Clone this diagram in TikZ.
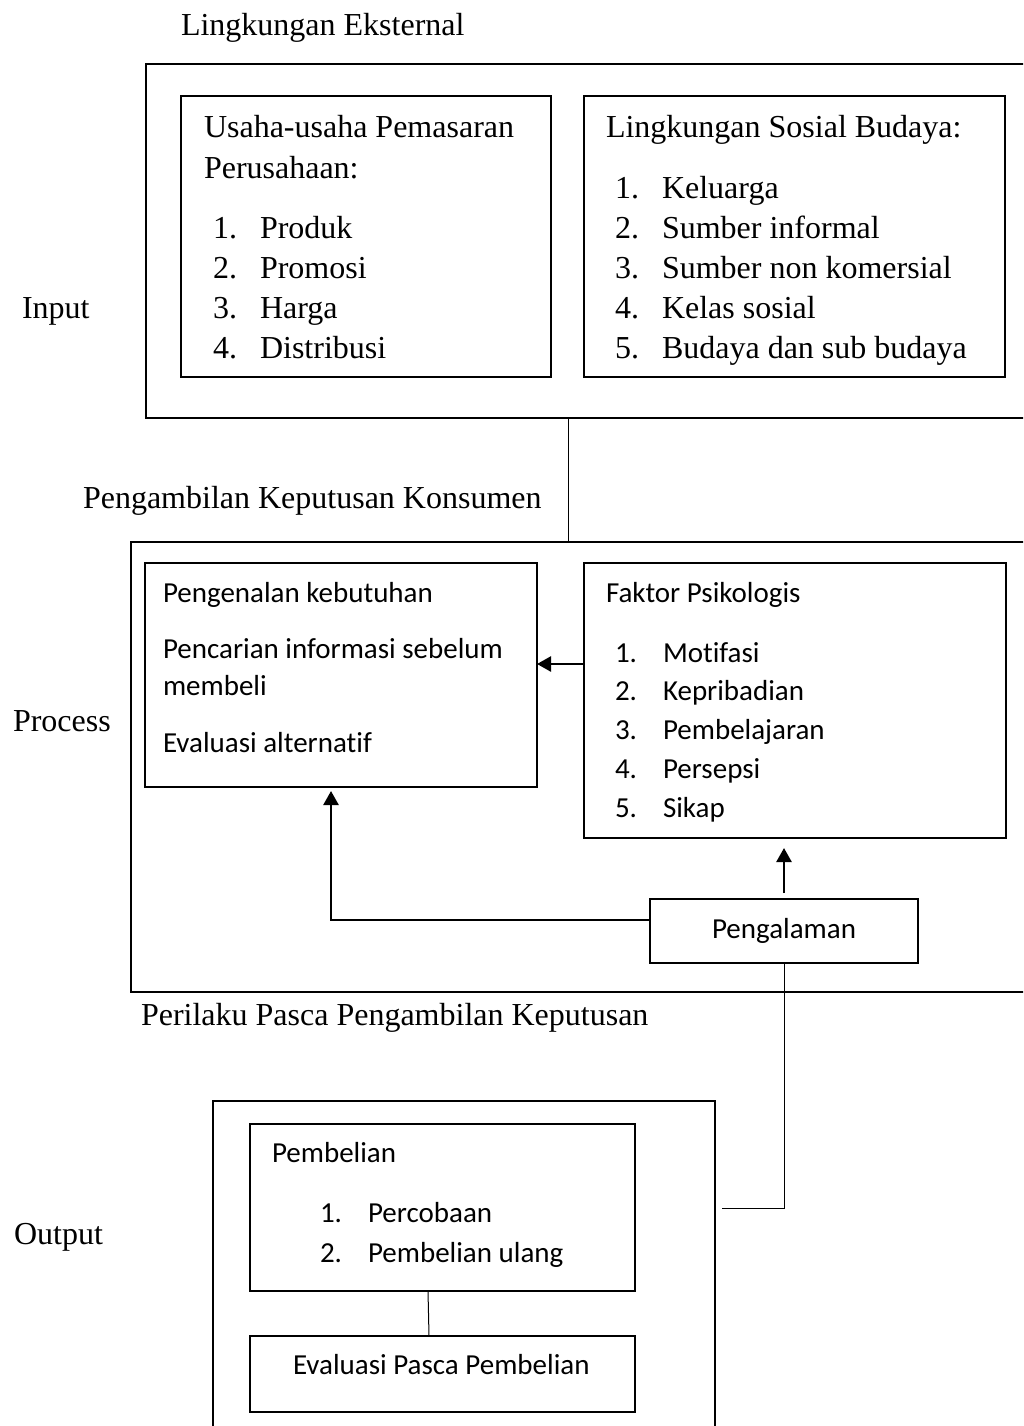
\documentclass[tikz,border=0pt]{standalone}
\usepackage{fontspec}
\setmainfont{Liberation Serif}
\newfontfamily\calibri[Ligatures=NoCommon]{Carlito}
\usetikzlibrary{arrows.meta}

\begin{document}
\begin{tikzpicture}[x=1pt,y=-1pt,
  every node/.style={inner sep=0pt,outer sep=0pt},
  frame/.style={draw,line width=1.5pt},
  box/.style={draw,line width=2pt},
  tm/.style={font=\fontsize{32}{40}\selectfont,anchor=base west},
  cb/.style={font=\calibri\fontsize{29}{38}\selectfont,anchor=base west},
  link/.style={line width=1pt},
  arr/.style={line width=2.5pt,-{Triangle[length=14pt,width=15pt]}}
]
\clip (0,0) rectangle (1023,1426);
\useasboundingbox (0,0) rectangle (1023,1426);

% input
\node[tm] (tLing) at (181,36) {Lingkungan Eksternal};
\node[tm] (tInput) at (22,318) {Input};
\node[frame,minimum width=894pt,minimum height=354pt] (inFrame) at (593,241) {};
\node[box,minimum width=370pt,minimum height=281pt] (usaha) at (366,236.5) {};
\node[box,minimum width=421pt,minimum height=281pt] (sosial) at (794.5,236.5) {};
\node[tm] (tUsaha1) at (204,138) {Usaha-usaha Pemasaran};
\node[tm] (tUsaha2) at (204,178) {Perusahaan:};
\foreach \t [count=\i] in {Produk,Promosi,Harga,Distribusi} {
  \node[tm] (un\i) at (213,198+40*\i) {\i.};
  \node[tm] (ut\i) at (260,198+40*\i) {\t};
}
\node[tm] (tSosial) at (606,138) {Lingkungan Sosial Budaya:};
\foreach \t [count=\i] in {Keluarga,Sumber informal,Sumber non komersial,
    Kelas sosial,Budaya dan sub budaya} {
  \node[tm] (sn\i) at (615,158+40*\i) {\i.};
  \node[tm] (st\i) at (662,158+40*\i) {\t};
}

% process
\node[tm] (tKonsumen) at (83,508) {Pengambilan Keputusan Konsumen};
\node[tm] (tProcess) at (13,731) {Process};
\node[frame,minimum width=909pt,minimum height=450pt] (procFrame) at (585.5,767) {};
\node[box,minimum width=392pt,minimum height=224pt] (kenal) at (341,675) {};
\node[box,minimum width=422pt,minimum height=275pt] (faktor) at (795,700.5) {};
\node[box,minimum width=268pt,minimum height=64pt,font=\calibri\fontsize{29}{38}\selectfont] (exp) at (784,931) {Pengalaman};
\node[cb] (tKenal1) at (163,602) {Pengenalan kebutuhan};
\node[cb] (tKenal2) at (163,658) {Pencarian informasi sebelum};
\node[cb] (tKenal3) at (163,695) {membeli};
\node[cb] (tKenal4) at (163,752) {Evaluasi alternatif};
\node[cb] (tFaktor) at (606,602) {Faktor Psikologis};
\foreach \t [count=\i] in {Motifasi,Kepribadian,Pembelajaran,Persepsi,Sikap} {
  \node[cb] (fn\i) at (615,623.25+38.75*\i) {\i.};
  \node[cb] (ft\i) at (663,623.25+38.75*\i) {\t};
}

% output
\node[tm] (tPasca) at (141,1025) {Perilaku Pasca Pengambilan Keputusan};
\node[tm] (tOutput) at (14,1244) {Output};
\node[frame,minimum width=502pt,minimum height=345pt] (outFrame) at (464,1273.5) {};
\node[box,minimum width=385pt,minimum height=167pt] (beli) at (442.5,1207.5) {};
\node[box,minimum width=385pt,minimum height=76pt] (evalp) at (442.5,1374) {};
\node[cb] (tBeli) at (272,1162) {Pembelian};
\foreach \t [count=\i] in {Percobaan,Pembelian ulang} {
  \node[cb] (bn\i) at (320,1182+40*\i) {\i.};
  \node[cb] (bt\i) at (368,1182+40*\i) {\t};
}
\node[cb] (tEval) at (293,1374) {Evaluasi Pasca Pembelian};

% connectors
\coordinate (cA) at (568,0);
\coordinate (cB) at (0,664);
\coordinate (cC) at (331,920);
\coordinate (cD) at (0,1208);
\coordinate (cE) at (428,0);
\draw[link] (inFrame.south -| cA) -- (procFrame.north -| cA);
\draw[arr] (faktor.west |- cB) -- (kenal.east |- cB);
\draw[arr,shorten <=6pt,shorten >=10pt] (exp.north) -- (faktor.south -| exp.north);
\draw[arr,shorten >=4pt] (exp.west |- cC) -- (cC) -- (kenal.south -| cC);
\draw[link] (exp.south) |- ([xshift=7pt]outFrame.east |- cD);
\draw[link] (beli.south -| cE) -- ([xshift=1pt]evalp.north -| cE);
\end{tikzpicture}
\end{document}
